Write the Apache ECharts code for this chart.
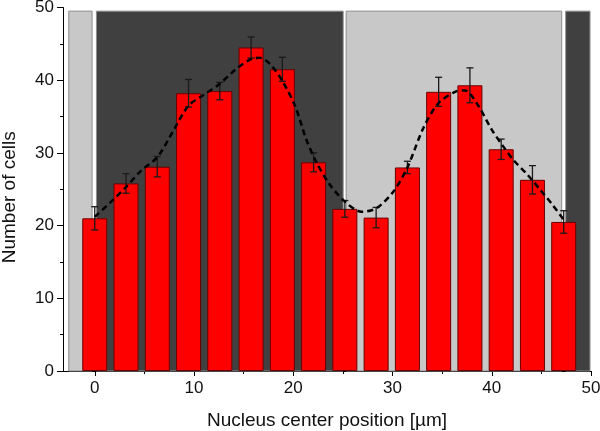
<!DOCTYPE html>
<html>
<head>
<meta charset="utf-8">
<script src="https://cdn.jsdelivr.net/npm/echarts@6/dist/echarts.min.js"></script>
<style>
  html, body { margin: 0; padding: 0; background: #fff; }
  #chart { width: 600px; height: 431px; }
</style>
</head>
<body>
<div id="chart"></div>
<script>
// histogram bins (µm) and counts with error
const binCenters = [0, 3.15, 6.3, 9.45, 12.6, 15.75, 18.9, 22.05, 25.2, 28.35, 31.5, 34.65, 37.8, 40.95, 44.1, 47.25];
const cellCounts = [21.0, 25.8, 28.1, 38.2, 38.5, 44.5, 41.5, 28.7, 22.3, 21.1, 28.0, 38.4, 39.3, 30.5, 26.3, 20.5];
const countErrors = [1.6, 1.35, 1.4, 1.9, 1.2, 1.45, 1.65, 1.3, 1.15, 1.4, 0.85, 2.0, 2.4, 1.4, 1.95, 1.55];

// dashed fit curve
const fitX = [0, 1.5, 3.15, 4.7, 6.3, 7.9, 9.45, 11.0, 12.6, 14.2, 15.75, 16.6, 17.6, 18.9, 20.2, 21.3, 22.3, 23.6, 25.2, 26.9, 28.4, 30.1, 31.5, 33.1, 34.6, 36.3, 37.3, 38.5, 40.0, 41.1, 42.2, 43.6, 44.9, 46.1, 47.2];
const fitY = [21.2, 23.1, 25.3, 27.6, 29.4, 33.0, 36.5, 38.0, 39.5, 41.5, 42.9, 43.1, 42.3, 39.9, 36.4, 31.9, 28.8, 25.8, 23.3, 21.9, 22.4, 24.7, 28.0, 33.4, 36.8, 38.4, 38.6, 36.8, 33.2, 31.0, 29.0, 27.0, 24.9, 22.9, 20.9];

// shaded background zones
const regionStart = [-2.62, 0.17, 25.33, 47.45];
const regionEnd = [-0.27, 25.03, 47.05, 49.9];
const regionShade = [0, 1, 0, 1];
const regionTop = 49.5;

const xMajorTicks = [0, 10, 20, 30, 40, 50];
const xMinorTicks = [5, 15, 25, 35, 45];

const FONT = '"Liberation Sans", Arial, sans-serif';
const SHADE_COLORS = ['#c8c8c8', '#404040'];

const chart = echarts.init(document.getElementById('chart'));

const xBase = {
  type: 'value',
  min: -3.2,
  max: 50,
  position: 'bottom',
  splitLine: { show: false },
};

chart.setOption({
  animation: false,
  backgroundColor: '#fff',
  textStyle: { fontFamily: FONT },
  grid: { left: 63, right: 9, top: 7.5, bottom: 60, containLabel: false, outerBoundsMode: 'none' },
  xAxis: [
    {
      ...xBase,
      name: 'Nucleus center position [µm]',
      nameLocation: 'middle',
      nameGap: 40,
      nameTextStyle: { fontSize: 19, color: '#111', fontFamily: FONT },
      axisLine: { onZero: false, lineStyle: { color: '#000', width: 1 } },
      axisTick: { customValues: xMajorTicks, length: 5, lineStyle: { color: '#000' } },
      axisLabel: { customValues: xMajorTicks, fontSize: 17, color: '#111', margin: 9, fontFamily: FONT },
    },
    {
      ...xBase,
      axisLine: { show: false, onZero: false },
      axisTick: { customValues: xMinorTicks, length: 3, lineStyle: { color: '#000' } },
      axisLabel: { show: false },
    },
  ],
  yAxis: {
    type: 'value',
    min: 0,
    max: 50,
    interval: 10,
    name: 'Number of cells',
    nameLocation: 'middle',
    nameGap: 44,
    nameTextStyle: { fontSize: 19, color: '#111', fontFamily: FONT, padding: [0, 16, 0, 0] },
    axisLine: { show: true, onZero: false, lineStyle: { color: '#000', width: 1 } },
    axisTick: { show: true, length: 6, lineStyle: { color: '#000' } },
    minorTick: { show: true, splitNumber: 2, length: 3, lineStyle: { color: '#000' } },
    axisLabel: { fontSize: 17, color: '#111', margin: 9, fontFamily: FONT },
    splitLine: { show: false },
  },
  series: [
    {
      type: 'custom',
      z: 1,
      silent: true,
      data: regionStart.map((s, i) => [s, regionEnd[i], regionShade[i]]),
      renderItem: (params, api) => {
        const p0 = api.coord([api.value(0), regionTop]);
        const p1 = api.coord([api.value(1), 0]);
        return {
          type: 'rect',
          shape: { x: p0[0], y: p0[1], width: p1[0] - p0[0], height: p1[1] - p0[1] },
          style: { fill: SHADE_COLORS[api.value(2)], stroke: '#8c8c8c', lineWidth: 1 },
        };
      },
    },
    {
      type: 'bar',
      z: 2,
      barWidth: 25,
      data: binCenters.map((x, i) => [x, cellCounts[i]]),
      itemStyle: { color: '#ff0000', borderColor: '#6a0000', borderWidth: 1 },
    },
    {
      type: 'custom',
      z: 3,
      silent: true,
      data: binCenters.map((x, i) => [x, cellCounts[i], countErrors[i]]),
      renderItem: (params, api) => {
        const x = api.value(0), y = api.value(1), e = api.value(2);
        const top = api.coord([x, y + e]);
        const bot = api.coord([x, y - e]);
        const cap = 3.5;
        const st = { stroke: '#1a1a1a', lineWidth: 1.3 };
        return {
          type: 'group',
          children: [
            { type: 'line', shape: { x1: top[0], y1: top[1], x2: bot[0], y2: bot[1] }, style: st },
            { type: 'line', shape: { x1: top[0] - cap, y1: top[1], x2: top[0] + cap, y2: top[1] }, style: st },
            { type: 'line', shape: { x1: bot[0] - cap, y1: bot[1], x2: bot[0] + cap, y2: bot[1] }, style: st },
          ],
        };
      },
    },
    {
      type: 'line',
      z: 4,
      smooth: 0.3,
      showSymbol: false,
      data: fitX.map((x, i) => [x, fitY[i]]),
      lineStyle: { color: '#000', width: 2.5, type: [6, 4] },
    },
  ],
});
</script>
</body>
</html>
